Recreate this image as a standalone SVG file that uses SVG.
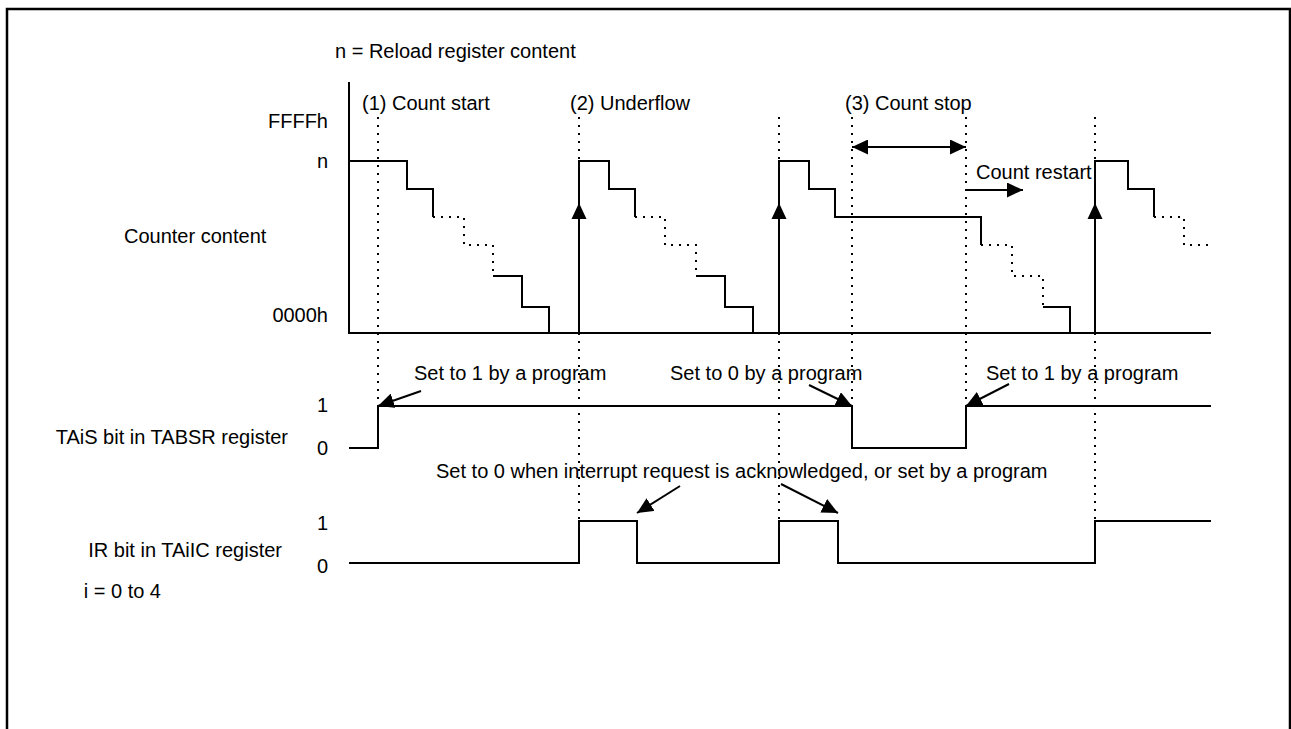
<svg xmlns="http://www.w3.org/2000/svg" xmlns:xlink="http://www.w3.org/1999/xlink" width="1291" height="729" viewBox="0 0 1291 729">
<style>
text{font-family:"Liberation Sans",Arial,sans-serif;font-size:20px;fill:#000}
.e{text-anchor:end}
.s{fill:none;stroke:#000;stroke-width:2}
.d{fill:none;stroke:#000;stroke-width:2;stroke-dasharray:2 6}
.a{fill:none;stroke:#000;stroke-width:2;marker-end:url(#ah)}
</style>
<defs>
<marker id="ah" markerUnits="userSpaceOnUse" markerWidth="17" markerHeight="15" refX="16" refY="7.5" orient="auto-start-reverse">
<path d="M0,0 L16,7.5 L0,15 z" fill="#000"/>
</marker>
<polygon id="up" points="0,0 -7.5,16 7.5,16" fill="#000"/>
</defs>
<rect width="1291" height="729" fill="#fff"/>
<path d="M7,729 V9 H1290 V729" fill="none" stroke="#000" stroke-width="2.5"/>

<g id="guides">
<path class="d" d="M378,117 V406 M579,117 V521 M779,117 V521 M852,117 V406 M966,117 V406 M1095,117 V521"/>
</g>

<g id="counter">
<path class="s" d="M349,82 V333 H1211"/>
<path class="s" d="M349,161 H407 V189 H433 V217"/>
<path class="d" d="M433,217 H464 V245 H493 V276"/>
<path class="s" d="M493,276 H522 V307 H549 V333"/>
<path class="s" d="M579,333 V161 H609 V189 H635 V217"/>
<path class="d" d="M635,217 H665 V245 H696 V276"/>
<path class="s" d="M696,276 H725 V307 H753 V333"/>
<path class="s" d="M779,333 V161 H809 V189 H835 V217 H981 V245"/>
<path class="d" d="M981,245 H1012 V276 H1043 V307"/>
<path class="s" d="M1043,307 H1070 V333"/>
<path class="s" d="M1095,333 V161 H1128 V189 H1154 V217"/>
<path class="d" d="M1154,217 H1184 V245 H1209"/>
<use xlink:href="#up" x="579" y="203"/>
<use xlink:href="#up" x="779" y="203"/>
<use xlink:href="#up" x="1095" y="203"/>
</g>

<g id="tais">
<path class="s" d="M349,448 H378 V406 H852 V448 H966 V406 H1211"/>
</g>

<g id="ir">
<path class="s" d="M349,563 H579 V521 H637 V563 H779 V521 H838 V563 H1095 V521 H1211"/>
</g>

<g id="connectors">
<path class="s" d="M852,147 H966" marker-start="url(#ah)" marker-end="url(#ah)"/>
<path class="a" d="M966,190 H1023"/>
<path class="a" d="M421,391 L378,406"/>
<path class="a" d="M809,385 L852,406"/>
<path class="a" d="M1009,384 L966,406"/>
<path class="a" d="M680,486 L637,513"/>
<path class="a" d="M781,484 L838,513"/>
</g>

<g id="labels">
<text x="335" y="58">n = Reload register content</text>
<text x="362" y="110">(1) Count start</text>
<text x="570" y="110">(2) Underflow</text>
<text x="845" y="110">(3) Count stop</text>
<text class="e" x="328" y="128">FFFFh</text>
<text class="e" x="328" y="168">n</text>
<text x="124" y="243">Counter content</text>
<text class="e" x="328" y="322">0000h</text>
<text x="976" y="179">Count restart</text>
<text x="414" y="380">Set to 1 by a program</text>
<text x="670" y="380">Set to 0 by a program</text>
<text x="986" y="380">Set to 1 by a program</text>
<text class="e" x="328" y="412">1</text>
<text class="e" x="328" y="455">0</text>
<text class="e" x="288" y="444">TAiS bit in TABSR register</text>
<text x="436" y="478">Set to 0 when interrupt request is acknowledged, or set by a program</text>
<text class="e" x="328" y="530">1</text>
<text class="e" x="328" y="573">0</text>
<text class="e" x="282" y="557">IR bit in TAiIC register</text>
<text class="e" x="161" y="598">i = 0 to 4</text>
</g>
</svg>
